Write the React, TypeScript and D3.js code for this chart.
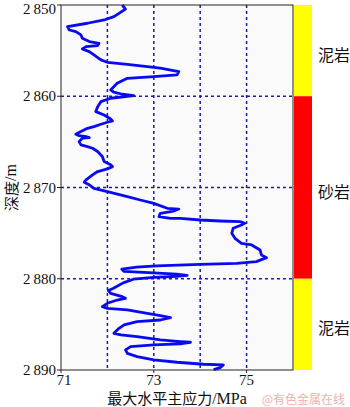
import React from "react";
import * as d3 from "d3";

const depths: number[] = [
  2850.0, 2850.44, 2850.91, 2851.28, 2851.64, 2852.0, 2852.37, 2852.74, 2852.92, 2853.28,
  2853.65, 2854.01, 2854.2, 2854.45, 2854.56, 2854.82, 2855.11, 2855.47, 2856.02, 2856.28,
  2856.5, 2856.75, 2856.93, 2857.3, 2857.66, 2857.85, 2858.03, 2858.58, 2859.31, 2859.56,
  2859.78, 2859.93, 2860.22, 2860.59, 2861.14, 2861.68, 2862.05, 2862.49, 2862.71, 2862.85,
  2863.07, 2863.33, 2863.51, 2863.87, 2864.17, 2864.31, 2864.42, 2864.53, 2864.6, 2864.97,
  2865.33, 2865.52, 2865.7, 2866.06, 2866.61, 2867.16, 2867.52, 2867.71, 2867.96, 2868.25,
  2868.62, 2869.17, 2869.42, 2869.71, 2870.09, 2870.46, 2871.0, 2871.37, 2871.74, 2872.28,
  2872.36, 2872.58, 2872.83, 2873.2, 2873.38, 2873.38, 2873.56, 2873.67, 2873.74, 2873.93,
  2874.11, 2874.47, 2875.02, 2875.57, 2876.12, 2876.3, 2876.85, 2877.39, 2877.69, 2878.12,
  2878.31, 2878.42, 2878.6, 2878.72, 2878.95, 2879.2, 2879.35, 2879.5, 2879.62, 2879.75,
  2879.85, 2880.05, 2880.45, 2881.05, 2881.3, 2881.6, 2881.96, 2882.14, 2882.33, 2882.69,
  2883.06, 2883.24, 2883.42, 2883.79, 2884.04, 2884.26, 2884.52, 2884.7, 2885.06, 2885.43,
  2885.98, 2886.16, 2886.34, 2886.71, 2886.89, 2886.96, 2887.14, 2887.25, 2887.44, 2887.8,
  2888.17, 2888.53, 2888.9, 2889.15, 2889.37, 2889.44, 2889.74, 2889.96,
];

const stress: number[] = [
  72.32, 72.39, 72.25, 72.14, 71.93, 71.57, 71.14, 71.18, 71.32, 71.43,
  71.46, 71.61, 71.82, 71.79, 71.54, 71.46, 71.61, 71.71, 71.86, 72.0,
  72.43, 72.86, 73.14, 73.54, 73.5, 73.0, 72.43, 72.21, 72.07, 72.14,
  72.32, 72.57, 72.07, 71.86, 71.79, 71.75, 71.93, 72.07, 72.11, 72.0,
  71.86, 71.71, 71.57, 71.43, 71.32, 71.39, 71.54, 71.61, 71.46, 71.39,
  71.43, 71.57, 71.68, 71.79, 71.89, 71.93, 72.07, 72.11, 72.0, 71.79,
  71.68, 71.54, 71.5, 71.61, 71.71, 72.0, 72.43, 72.71, 73.0, 73.29,
  73.54, 73.43, 73.14, 73.11, 73.36, 73.57, 74.0, 74.43, 74.86, 74.96,
  74.89, 74.71, 74.68, 74.75, 74.89, 75.11, 75.29, 75.32, 75.43, 75.21,
  74.79, 74.0, 73.06, 72.63, 72.31, 72.36, 72.99, 73.49, 73.72, 73.5,
  73.0, 72.56, 72.34, 72.13, 72.02, 72.07, 72.32, 72.39, 72.21, 72.0,
  71.89, 72.0, 72.43, 72.86, 73.14, 73.36, 73.14, 72.64, 72.36, 72.25,
  72.14, 72.29, 72.64, 73.14, 73.57, 73.79, 73.57, 73.0, 72.5, 72.39,
  72.43, 72.64, 73.0, 73.5, 74.07, 74.5, 74.43, 74.29,
];

const xTicks: number[] = [71, 73, 75];
const xGrid: number[] = [72, 73, 74, 75];
const yTicks: number[] = [2850, 2860, 2870, 2880, 2890];
const yGrid: number[] = [2860, 2870, 2880];

const layerTop: number[] = [2850, 2860, 2880];
const layerBottom: number[] = [2860, 2880, 2890];
const layerName: string[] = ["泥岩", "砂岩", "泥岩"];
const layerColor: string[] = ["#ffff00", "#ff0000", "#ffff00"];

const fmtDepth = (d: number) => {
  const s = String(d);
  return s.slice(0, 1) + "\u2009" + s.slice(1);
};

export default function App() {
  const W = 350, H = 407;
  const left = 61, right = 293, top = 5, bottom = 370;
  const colL = 294, colR = 312;
  const x = d3.scaleLinear().domain([71, 76]).range([left, right]);
  const y = d3.scaleLinear().domain([2850, 2890]).range([top, bottom]);
  const pts: [number, number][] = depths.map((d, i) => [stress[i], d]);
  const line = d3.line<[number, number]>().x((p) => x(p[0])).y((p) => y(p[1]));
  const serif = "'Liberation Serif', 'Times New Roman', 'Noto Sans CJK SC', serif";
  const cjk = "'Noto Sans CJK SC', 'Liberation Serif', serif";
  const gridColor = "#1c1ca8";
  return (
    <svg width={W} height={H} style={{ position: "absolute", left: 0, top: 0, background: "#fff" }}>
      <rect x={left} y={top} width={right - left} height={bottom - top} fill="#fafafa" />
      {xGrid.map((v) => (
        <line key={"xg" + v} x1={x(v)} x2={x(v)} y1={top} y2={bottom} stroke={gridColor} strokeWidth={1.5} strokeDasharray="3,3" />
      ))}
      {yGrid.map((v) => (
        <line key={"yg" + v} x1={left} x2={right} y1={y(v)} y2={y(v)} stroke={gridColor} strokeWidth={1.5} strokeDasharray="3,3" />
      ))}
      <path d={line(pts) || ""} fill="none" stroke="#0a0af2" strokeWidth={2.8} strokeLinejoin="round" />
      <rect x={left} y={top} width={right - left} height={bottom - top} fill="none" stroke="#222" strokeWidth={1} />
      {layerTop.map((t, i) => (
        <g key={"l" + i}>
          <rect x={colL} y={y(t)} width={colR - colL} height={y(layerBottom[i]) - y(t)} fill={layerColor[i]} />
          <text x={334} y={(y(t) + y(layerBottom[i])) / 2 + 3} fontFamily={cjk} fontSize={16} textAnchor="middle" dominantBaseline="central" fill="#111">
            {layerName[i]}
          </text>
        </g>
      ))}
      {yTicks.map((v) => (
        <g key={"yt" + v}>
          <line x1={left - 4} x2={left} y1={y(v)} y2={y(v)} stroke="#222" strokeWidth={1} />
          <text x={left - 5} y={Math.max(y(v), 9)} fontFamily={serif} fontSize={15} textAnchor="end" dominantBaseline="central" fill="#111">
            {fmtDepth(v)}
          </text>
        </g>
      ))}
      {xTicks.map((v) => (
        <g key={"xt" + v}>
          <line x1={x(v)} x2={x(v)} y1={bottom} y2={bottom + 3} stroke="#222" strokeWidth={1} />
          <text x={x(v) + (v === 71 ? 3 : 0)} y={bottom + 15} fontFamily={serif} fontSize={15} textAnchor="middle" fill="#111">
            {v}
          </text>
        </g>
      ))}
      <text x={(left + right) / 2} y={404} fontFamily={cjk} fontSize={15} textAnchor="middle" fill="#111">
        最大水平主应力<tspan fontFamily={serif} fontSize={16}>/MPa</tspan>
      </text>
      <text x={345} y={404} fontFamily={cjk} fontSize={12} textAnchor="end" fill="#f0b0b0">
        @有色金属在线
      </text>
      <text transform={`translate(${10},${(top + bottom) / 2}) rotate(-90)`} fontFamily={cjk} fontSize={15} textAnchor="middle" dominantBaseline="central" fill="#111">
        深度<tspan fontFamily={serif} fontSize={16}>/m</tspan>
      </text>
    </svg>
  );
}
